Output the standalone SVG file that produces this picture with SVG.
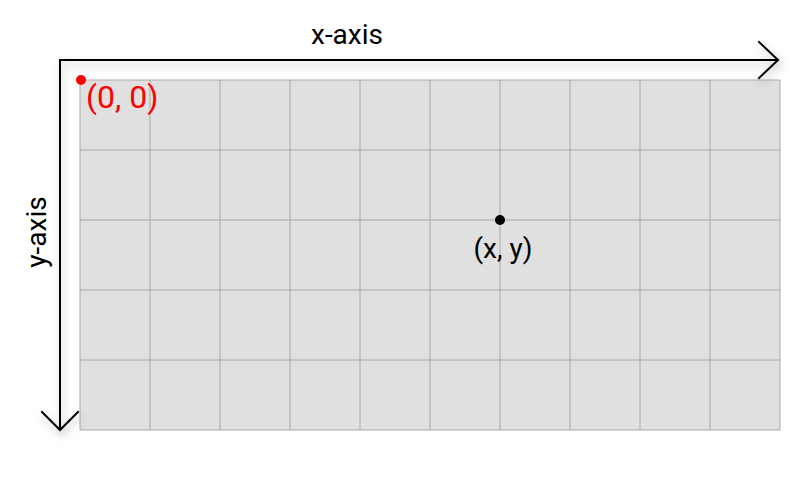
<svg xmlns="http://www.w3.org/2000/svg" width="800" height="500" viewBox="0 0 800 500">
<defs>
<style>
.lbl{font-family:Roboto,"Liberation Sans",sans-serif;font-size:28px;fill:#000}
.grid line{stroke:#999999;stroke-width:0.8}
.axis{fill:none;stroke:#000;stroke-width:2;stroke-linecap:square}
</style>
<filter id="sh" x="-20%" y="-20%" width="140%" height="140%">
<feDropShadow dx="2" dy="4" stdDeviation="4" flood-color="#000" flood-opacity="0.3"/>
</filter>
</defs>
<g id="grid" class="grid">
<rect x="80" y="80" width="700" height="350" fill="#e0e0e0" stroke="#aaaaaa" stroke-width="1"/>
<line x1="150" y1="80" x2="150" y2="430"/>
<line x1="220" y1="80" x2="220" y2="430"/>
<line x1="290" y1="80" x2="290" y2="430"/>
<line x1="360" y1="80" x2="360" y2="430"/>
<line x1="430" y1="80" x2="430" y2="430"/>
<line x1="500" y1="80" x2="500" y2="430"/>
<line x1="570" y1="80" x2="570" y2="430"/>
<line x1="640" y1="80" x2="640" y2="430"/>
<line x1="710" y1="80" x2="710" y2="430"/>
<line x1="80" y1="150" x2="780" y2="150"/>
<line x1="80" y1="220" x2="780" y2="220"/>
<line x1="80" y1="290" x2="780" y2="290"/>
<line x1="80" y1="360" x2="780" y2="360"/>
</g>
<g id="axes" filter="url(#sh)">
<g id="x-axis">
<path class="axis" d="M60 60 H778 M759 42 L778 60 L759 78"/>
</g>
<g id="y-axis">
<path class="axis" d="M60 60 V429 M42 412 L60 430 L78 412"/>
</g>
</g>
<text class="lbl" x="347" y="44" text-anchor="middle">x-axis</text>
<text class="lbl" transform="translate(46 232) rotate(-90)" text-anchor="middle">y-axis</text>
<g id="origin">
<circle cx="81" cy="80" r="5" fill="#ff0000"/>
<text class="lbl" x="86" y="108" style="fill:#ff0000;font-size:32px">(0, 0)</text>
</g>
<g id="point">
<circle cx="500" cy="220" r="5" fill="#000"/>
<text class="lbl" x="503" y="258" text-anchor="middle">(x, y)</text>
</g>
</svg>
